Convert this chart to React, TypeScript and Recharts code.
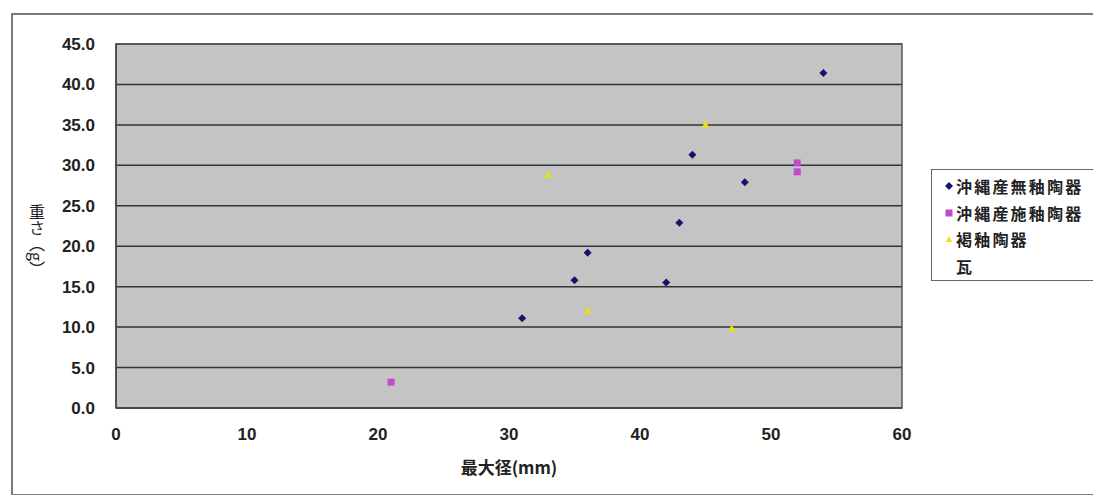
import { ScatterChart, Scatter, XAxis, YAxis, CartesianGrid, ReferenceArea } from 'recharts';

// axis ticks
const xTicks = [0, 10, 20, 30, 40, 50, 60];
const yTicks = [0, 5, 10, 15, 20, 25, 30, 35, 40, 45];

// series names (legend order)
const seriesNames = ['沖縄産無釉陶器', '沖縄産施釉陶器', '褐釉陶器', '瓦'];

// 最大径 (mm) / 重さ (g)
const mueyuX = [54, 44, 48, 43, 36, 35, 42, 31];
const mueyuY = [41.4, 31.3, 27.9, 22.9, 19.2, 15.8, 15.5, 11.1];
const seyuX = [52, 52, 21];
const seyuY = [30.3, 29.2, 3.2];
const katsuyuX = [45, 33, 36, 47];
const katsuyuY = [35.1, 28.9, 12.1, 9.9];
const kawaraX: number[] = [];
const kawaraY: number[] = [];

const zip = (xs: number[], ys: number[]) => xs.map((x, i) => ({ x, y: ys[i] }));

const FONT = "'Liberation Sans', 'Noto Sans CJK JP', Arial, sans-serif";
const CJK = "'Noto Sans CJK JP', 'Liberation Sans', sans-serif";

const NAVY = '#14146e';
const MAGENTA = '#c04cc8';
const YELLOW = '#e6e600';

// markers
const Diamond = (props: any) => {
  const { cx, cy } = props;
  const r = 4;
  return <polygon points={`${cx},${cy - r} ${cx + r},${cy} ${cx},${cy + r} ${cx - r},${cy}`} fill={NAVY} />;
};

const Square = (props: any) => {
  const { cx, cy } = props;
  return <rect x={cx - 3.5} y={cy - 3.5} width={7} height={7} fill={MAGENTA} />;
};

const Triangle = (props: any) => {
  const { cx, cy } = props;
  const r = 3.5;
  return <polygon points={`${cx},${cy - r} ${cx + r},${cy + r} ${cx - r},${cy + r}`} fill={YELLOW} />;
};

const Blank = () => <g />;

const YTick = ({ x, y, payload }: any) => (
  <text x={x} y={y} dy={6} textAnchor="end" fontSize={17} fontWeight="bold" fill="#222" fontFamily={FONT}>
    {Number(payload.value).toFixed(1)}
  </text>
);

const XTick = ({ x, y, payload }: any) => (
  <text x={x} y={y} dy={32} textAnchor="middle" fontSize={17} fontWeight="bold" fill="#222" fontFamily={FONT}>
    {payload.value}
  </text>
);

// vertical japanese axis title
const YTitle = () => (
  <text
    x={37}
    y={204}
    fontSize={16}
    fill="#222"
    fontFamily={CJK}
    style={{ writingMode: 'vertical-rl' } as any}
  >
    重さ（g）
  </text>
);

const legendMarkers = [
  <svg width={8} height={8} key="a"><polygon points="4,0 8,4 4,8 0,4" fill={NAVY} /></svg>,
  <svg width={8} height={8} key="b"><rect x={0.5} y={0.5} width={7} height={7} fill={MAGENTA} /></svg>,
  <svg width={8} height={8} key="c"><polygon points="4,1 7,7 1,7" fill={YELLOW} /></svg>,
  <svg width={8} height={8} key="d" />,
];

export default function App() {
  return (
    <div style={{ position: 'absolute', left: 0, top: 0, width: 1093, height: 495, background: '#fff', overflow: 'hidden' }}>
      {/* outer chart frame */}
      <div
        style={{
          position: 'absolute',
          left: 11,
          top: 13,
          width: 1100,
          height: 479,
          border: '2px solid #7a7a7a',
        }}
      />
      <div style={{ position: 'absolute', left: 0, top: 0 }}>
        <ScatterChart width={1093} height={495} margin={{ top: 44, right: 191, bottom: 7, left: 56 }}>
          <CartesianGrid horizontal vertical={false} fill="#c4c4c4" stroke="#333" strokeWidth={1.5} />
          <XAxis
            type="number"
            dataKey="x"
            domain={[0, 60]}
            ticks={xTicks}
            height={80}
            tickLine={false}
            tickSize={0}
            tickMargin={0}
            tick={<XTick />}
            axisLine={{ stroke: '#444', strokeWidth: 1.5 }}
            label={{
              value: '最大径(mm)',
              position: 'insideBottom',
              offset: 14,
              style: { fontSize: 17, fontWeight: 'bold', fill: '#222', fontFamily: CJK },
            }}
          />
          <YAxis
            type="number"
            dataKey="y"
            domain={[0, 45]}
            ticks={yTicks}
            width={60}
            tickLine={false}
            tickSize={0}
            tickMargin={21}
            tick={<YTick />}
            axisLine={{ stroke: '#444', strokeWidth: 1.5 }}
            label={<YTitle />}
          />
          <ReferenceArea x1={0} x2={60} y1={0} y2={45} fill="none" stroke="#555" strokeWidth={1.5} />
          <Scatter name={seriesNames[0]} data={zip(mueyuX, mueyuY)} shape={<Diamond />} isAnimationActive={false} />
          <Scatter name={seriesNames[1]} data={zip(seyuX, seyuY)} shape={<Square />} isAnimationActive={false} />
          <Scatter name={seriesNames[2]} data={zip(katsuyuX, katsuyuY)} shape={<Triangle />} isAnimationActive={false} />
          <Scatter name={seriesNames[3]} data={zip(kawaraX, kawaraY)} shape={<Blank />} isAnimationActive={false} />
        </ScatterChart>
      </div>
      {/* legend */}
      <div
        style={{
          position: 'absolute',
          left: 931,
          top: 169,
          width: 170,
          height: 112,
          border: '1.5px solid #666',
          background: '#fff',
          boxSizing: 'border-box',
          paddingTop: 3,
        }}
      >
        {seriesNames.map((name, i) => (
          <div key={name} style={{ display: 'flex', alignItems: 'center', height: 26.5, paddingLeft: 13 }}>
            <span style={{ width: 11, display: 'inline-flex', alignItems: 'center' }}>{legendMarkers[i]}</span>
            <span
              style={{
                fontFamily: CJK,
                fontSize: 16,
                fontWeight: 'bold',
                letterSpacing: 2.2,
                color: '#222',
                whiteSpace: 'nowrap',
              }}
            >
              {name}
            </span>
          </div>
        ))}
      </div>
    </div>
  );
}
